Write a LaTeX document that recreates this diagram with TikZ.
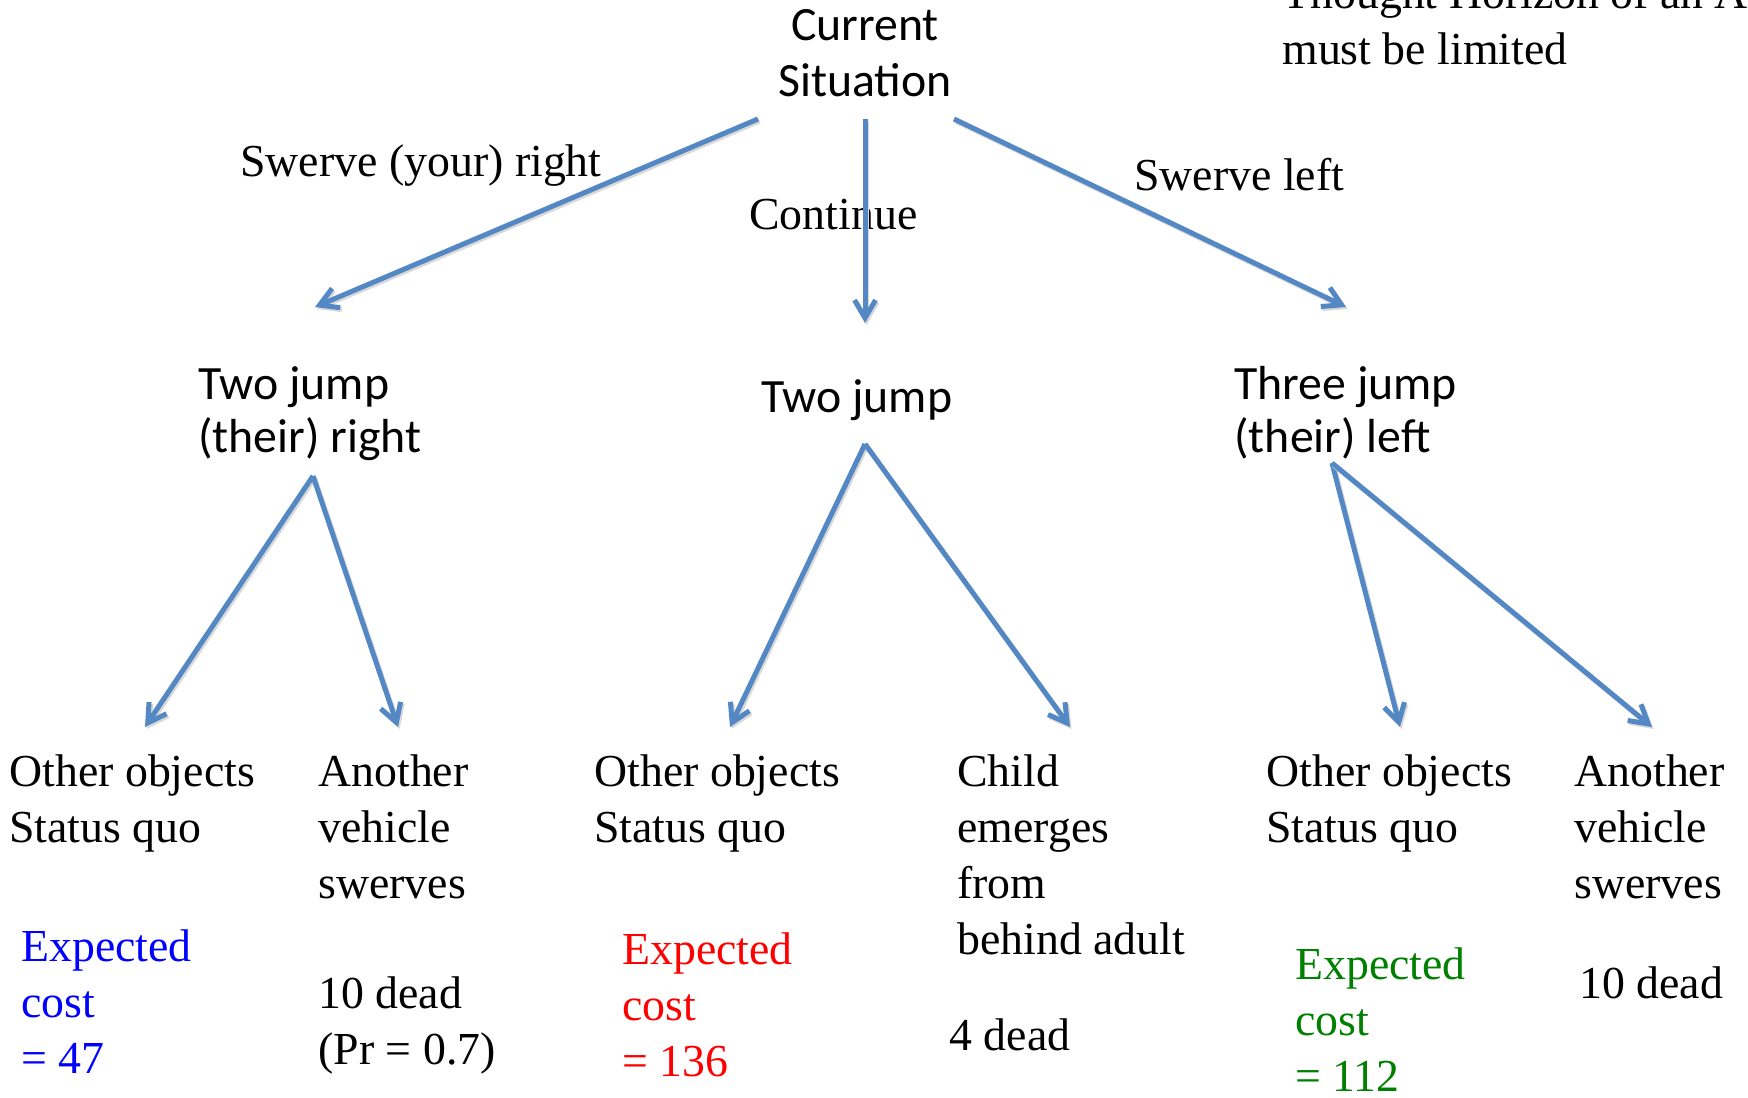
\documentclass[tikz,border=0pt]{standalone}
\usepackage{fontspec}
\setmainfont{Liberation Serif}
\newfontfamily\calibrifont{Carlito}
\usetikzlibrary{arrows.meta}
\definecolor{arrowblue}{RGB}{84,136,196}
\definecolor{ecgreen}{RGB}{0,128,0}
\tikzset{
  serif/.style={anchor=base west, inner sep=0pt, align=left, font=\fontsize{22.9}{28}\selectfont},
  sans/.style={anchor=base west, inner sep=0pt, align=left, font=\calibrifont\fontsize{23.9}{26.5}\selectfont},
  arr/.style={draw=arrowblue, line width=2.5pt, -{Straight Barb[length=9pt,width=10.5pt]},
    preaction={draw=black!15, line width=2.5pt, transform canvas={shift={(0.8pt,-1pt)}}, -{Straight Barb[length=9pt,width=10.5pt]}}}
}
\begin{document}
\begin{tikzpicture}[x=0.5pt,y=-0.5pt]
\useasboundingbox (0,0) rectangle (1748,1097);
\clip (0,0) rectangle (1748,1097);
% top level (base anchor of a multi-line node = its last line)
\node[sans, anchor=base, align=center, font=\calibrifont\fontsize{23.9}{28}\selectfont] (cur) at (865,97) {Current\\Situation};
\node[serif] (note) at (1282,65) {Thought Horizon of an A\\must be limited};
% edge labels
\node[serif] (lswr) at (240,176) {Swerve (your) right};
\node[serif] (lcont) at (749,229) {Continue};
\node[serif] (lswl) at (1134,190) {Swerve left};
% second level
\node[sans] (tjr) at (198,452) {Two jump\\(their) right};
\node[sans] (tj) at (761,412) {Two jump};
\node[sans] (thl) at (1234,452) {Three jump\\(their) left};
% third level
\node[serif] (o1) at (9,842) {Other objects\\Status quo};
\node[serif] (av1) at (318,898) {Another\\vehicle\\swerves};
\node[serif] (o2) at (594,842) {Other objects\\Status quo};
\node[serif] (ch) at (957,954) {Child\\emerges\\from\\behind adult};
\node[serif] (o3) at (1266,842) {Other objects\\Status quo};
\node[serif] (av3) at (1574,898) {Another\\vehicle\\swerves};
% outcomes
\node[serif, text=blue] (ec1) at (21,1073) {Expected\\cost\\= 47};
\node[serif] (d1) at (318,1064) {10 dead\\(Pr = 0.7)};
\node[serif, text=red] (ec2) at (622,1076) {Expected\\cost\\= 136};
\node[serif] (d2) at (949,1050) {4 dead};
\node[serif, text=ecgreen] (ec3) at (1295,1091) {Expected\\cost\\= 112};
\node[serif] (d3) at (1579,998) {10 dead};
% connector end points
\coordinate (cL) at (758,119);
\coordinate (cC) at (865,119);
\coordinate (cR) at (954,119);
\coordinate (tjrIn) at (315,307);
\coordinate (tjIn) at (865,323);
\coordinate (thlIn) at (1346,307);
\coordinate (tjrOut) at (313,476);
\coordinate (tjOut) at (865,444);
\coordinate (thlOut) at (1332,463);
\coordinate (o1In) at (145,727);
\coordinate (av1In) at (398,727);
\coordinate (o2In) at (730,727);
\coordinate (chIn) at (1070,727);
\coordinate (o3In) at (1400,727);
\coordinate (av3In) at (1652,727);
% connectors
\draw[arr] (cL) -- (tjrIn);
\draw[arr] (cC) -- (tjIn);
\draw[arr] (cR) -- (thlIn);
\draw[arr] (tjrOut) -- (o1In);
\draw[arr] (tjrOut) -- (av1In);
\draw[arr] (tjOut) -- (o2In);
\draw[arr] (tjOut) -- (chIn);
\draw[arr] (thlOut) -- (o3In);
\draw[arr] (thlOut) -- (av3In);
\end{tikzpicture}
\end{document}
